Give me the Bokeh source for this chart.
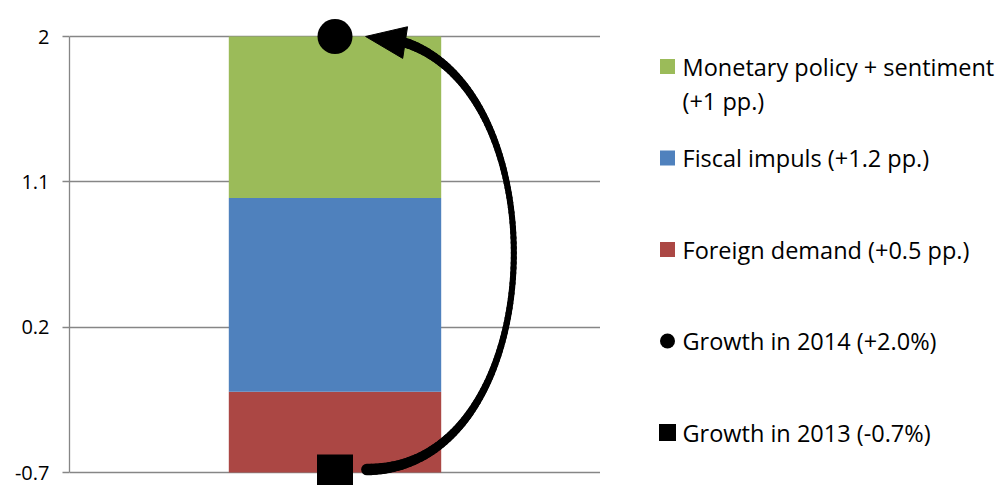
import numpy as np
from bokeh.plotting import figure
from bokeh.models import Range1d, FixedTicker, ColumnDataSource
from bokeh.layouts import row
from bokeh.embed import file_html
from bokeh.resources import INLINE
from bokeh.core.properties import value

# ---------------- data ----------------
categories = ["Foreign demand", "Fiscal impuls", "Monetary policy + sentiment"]
contributions = [0.5, 1.2, 1.0]          # pp.
bar_colors = ["#AB4744", "#4F81BD", "#9BBB59"]
growth_2013 = -0.7
growth_2014 = 2.0
y_ticks = [-0.7, 0.2, 1.1, 2.0]
y_tick_labels = ["-0.7", "0.2", "1.1", "2"]
legend_labels = [
    "Monetary policy + sentiment\n(+1 pp.)",
    "Fiscal impuls (+1.2 pp.)",
    "Foreign demand (+0.5 pp.)",
    "Growth in 2014 (+2.0%)",
    "Growth in 2013 (-0.7%)",
]

# ---------------- layout constants ----------------
PX_Y = 436 / 2.7      # pixels per unit on y
PX_X = 531.0          # pixels per unit on x (x range 0..1)
FONT = "Open Sans"
GRID = "#868686"
H = 485
TOP = 17

y_start = growth_2013 - 13 / PX_Y
y_end = growth_2014 + 19 / PX_Y

p = figure(width=600, height=H, x_range=Range1d(0, 1), y_range=Range1d(y_start, y_end),
           output_backend="svg", toolbar_location=None,
           min_border_left=69, min_border_right=0, min_border_top=TOP, min_border_bottom=0)
p.outline_line_color = None
p.background_fill_color = "white"
p.border_fill_color = "white"
p.xaxis.visible = False
p.xgrid.visible = False

ticker = FixedTicker(ticks=y_ticks)
p.yaxis.ticker = ticker
p.ygrid.ticker = ticker
p.yaxis.bounds = (growth_2013, growth_2014)
p.yaxis.major_label_overrides = {t: l for t, l in zip(y_ticks, y_tick_labels)}
p.yaxis.axis_line_color = GRID
p.yaxis.axis_line_width = 1.3
p.yaxis.major_tick_line_color = GRID
p.yaxis.major_tick_line_width = 1.3
p.yaxis.major_tick_out = 7
p.yaxis.major_tick_in = 0
p.yaxis.minor_tick_line_color = None
p.yaxis.major_label_standoff = 13
p.yaxis.major_label_text_font = FONT
p.yaxis.major_label_text_font_size = "20px"
p.yaxis.major_label_text_color = "#000000"
p.ygrid.grid_line_color = GRID
p.ygrid.grid_line_width = 1.3

# stacked bar starting from 2013 growth
offsets = np.concatenate([[0.0], np.cumsum(contributions)[:-1]])
bottoms = growth_2013 + offsets
tops = bottoms + np.array(contributions)
src = ColumnDataSource(dict(x=[0.5] * len(categories), bottom=bottoms, top=tops,
                            color=bar_colors, name=categories))
p.vbar(x="x", width=0.4, bottom="bottom", top="top", fill_color="color",
       line_color=None, source=src)

# curved arrow from 2013 to 2014
xs = 0.56
bulge = 0.369
ya = growth_2013 + 3 / PX_Y
yb = growth_2014
t = np.linspace(0, 0.93, 120)
bx = xs + 3 * t * (1 - t) * bulge
by = ya + (yb - ya) * (3 * t ** 2 - 2 * t ** 3)
w = 6 + 5.5 * (2 * t - 1) ** 2
p.segment(x0=bx[:-1], y0=by[:-1], x1=bx[1:], y1=by[1:], line_width=w[:-1],
          line_color="black", line_cap="round")

ex, ey = bx[-1], by[-1]
d = np.array([-0.988, -0.152])   # screen direction (y down)
nrm = np.array([0.152, -0.988])
L, HW = 40, 16
tip = L * d
c1 = HW * nrm
c2 = -HW * nrm
hx = [ex + q[0] / PX_X for q in (tip, c1, c2)]
hy = [ey - q[1] / PX_Y for q in (tip, c1, c2)]
p.patch(hx, hy, fill_color="black", line_color="black", line_width=1)

# growth markers
p.scatter(x=[0.5], y=[growth_2014], marker="circle", size=35, fill_color="black", line_color=None)
p.scatter(x=[0.5], y=[growth_2013], marker="square", size=36, fill_color="black", line_color=None)

# ---------------- legend panel ----------------
LW = 401
lf = figure(width=LW, height=H, x_range=Range1d(0, LW), y_range=Range1d(H, TOP),
            output_backend="svg", toolbar_location=None, title=None,
            x_axis_type=None, y_axis_type=None,
            min_border_left=0, min_border_right=0, min_border_top=TOP, min_border_bottom=0)
lf.outline_line_color = None
lf.grid.visible = False

first_y, pitch = 66, 91.5
item_y = [first_y + i * pitch for i in range(len(legend_labels))]
gx, tx = 67, 82
marker_kinds = ["square", "square", "square", "circle", "square"]
marker_colors = list(reversed(bar_colors)) + ["black", "black"]
marker_sizes = [15, 15, 15, 15, 17]
lf.scatter(x=[gx] * 5, y=item_y, marker=marker_kinds, size=marker_sizes,
           fill_color=marker_colors, line_color=None)

txt_x, txt_y, txt = [], [], []
for yy, lab in zip(item_y, legend_labels):
    for k, line in enumerate(lab.split("\n")):
        txt_x.append(tx)
        txt_y.append(yy + k * 34)
        txt.append(line)
lf.text(x=txt_x, y=txt_y, text=txt, text_font=value(FONT), text_font_size="23.5px",
        text_color="#000000", text_align="left", text_baseline="middle")

layout = row(p, lf)
open("out.html", "w").write(file_html(layout, INLINE))
